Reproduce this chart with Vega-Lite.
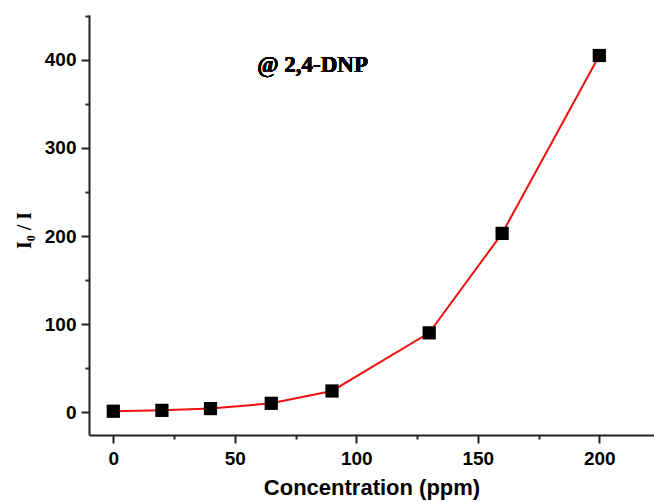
{
  "$schema": "https://vega.github.io/schema/vega-lite/v6.json",
  "width": 565,
  "height": 420,
  "autosize": {"type": "none"},
  "padding": {"left": 89, "top": 15, "right": 0, "bottom": 67},
  "background": "white",
  "config": {"view": {"stroke": null}},
  "data": {"values": [
    {"conc": 0, "ratio": 1},
    {"conc": 20, "ratio": 2},
    {"conc": 40, "ratio": 4},
    {"conc": 65, "ratio": 10},
    {"conc": 90, "ratio": 24},
    {"conc": 130, "ratio": 90},
    {"conc": 160, "ratio": 203},
    {"conc": 200, "ratio": 405}
  ]},
  "resolve": {"axis": {"x": "independent", "y": "independent"}},
  "layer": [
    {
      "mark": {"type": "rule", "opacity": 0},
      "encoding": {
        "x": {"field": "conc", "type": "quantitative", "scale": {"domain": [-10, 222.5], "nice": false, "zero": false},
          "axis": {"orient": "bottom", "values": [25, 75, 125, 175], "labels": false, "tickSize": 4, "tickWidth": 2, "domain": false, "grid": false, "title": null, "tickColor": "#222"}},
        "y": {"field": "ratio", "type": "quantitative", "scale": {"domain": [-26, 451], "nice": false, "zero": false},
          "axis": {"orient": "left", "values": [50, 150, 250, 350, 450], "labels": false, "tickSize": 4, "tickWidth": 2, "domain": false, "grid": false, "title": null, "tickColor": "#222"}}
      }
    },
    {
      "mark": {"type": "line", "color": "#ee1111", "strokeWidth": 2, "interpolate": "linear"},
      "encoding": {
        "x": {"field": "conc", "type": "quantitative",
          "axis": {"orient": "bottom", "values": [0, 50, 100, 150, 200], "tickSize": 8, "tickWidth": 2, "domainWidth": 2, "domainColor": "#222", "tickColor": "#222", "grid": false,
            "labelFont": "Liberation Sans", "labelFontSize": 19, "labelFontWeight": "bold", "labelColor": "black", "labelPadding": 6,
            "title": "Concentration (ppm)", "titleFont": "Liberation Sans", "titleFontSize": 22, "titleFontWeight": "bold", "titleColor": "black", "titlePadding": 9}},
        "y": {"field": "ratio", "type": "quantitative",
          "axis": {"orient": "left", "values": [0, 100, 200, 300, 400], "tickSize": 8, "tickWidth": 2, "domainWidth": 2, "domainColor": "#222", "tickColor": "#222", "grid": false,
            "labelFont": "Liberation Sans", "labelFontSize": 19, "labelFontWeight": "bold", "labelColor": "black", "labelPadding": 5,
            "title": "I₀ / I", "titleFont": "Liberation Serif", "titleFontSize": 20, "titleFontWeight": "bold", "titleColor": "black", "titlePadding": 10, "titleY": 215}}
      }
    },
    {
      "mark": {"type": "point", "shape": "square", "filled": true, "color": "black", "size": 175, "opacity": 1},
      "encoding": {
        "x": {"field": "conc", "type": "quantitative", "axis": null},
        "y": {"field": "ratio", "type": "quantitative", "axis": null}
      }
    },
    {
      "mark": {"type": "text", "text": "@ 2,4-DNP", "font": "Liberation Serif", "fontSize": 23, "fontWeight": "bold", "color": "black", "align": "center", "baseline": "middle"},
      "encoding": {
        "x": {"datum": 82, "type": "quantitative", "axis": null},
        "y": {"datum": 394, "type": "quantitative", "axis": null}
      }
    }
  ]
}
